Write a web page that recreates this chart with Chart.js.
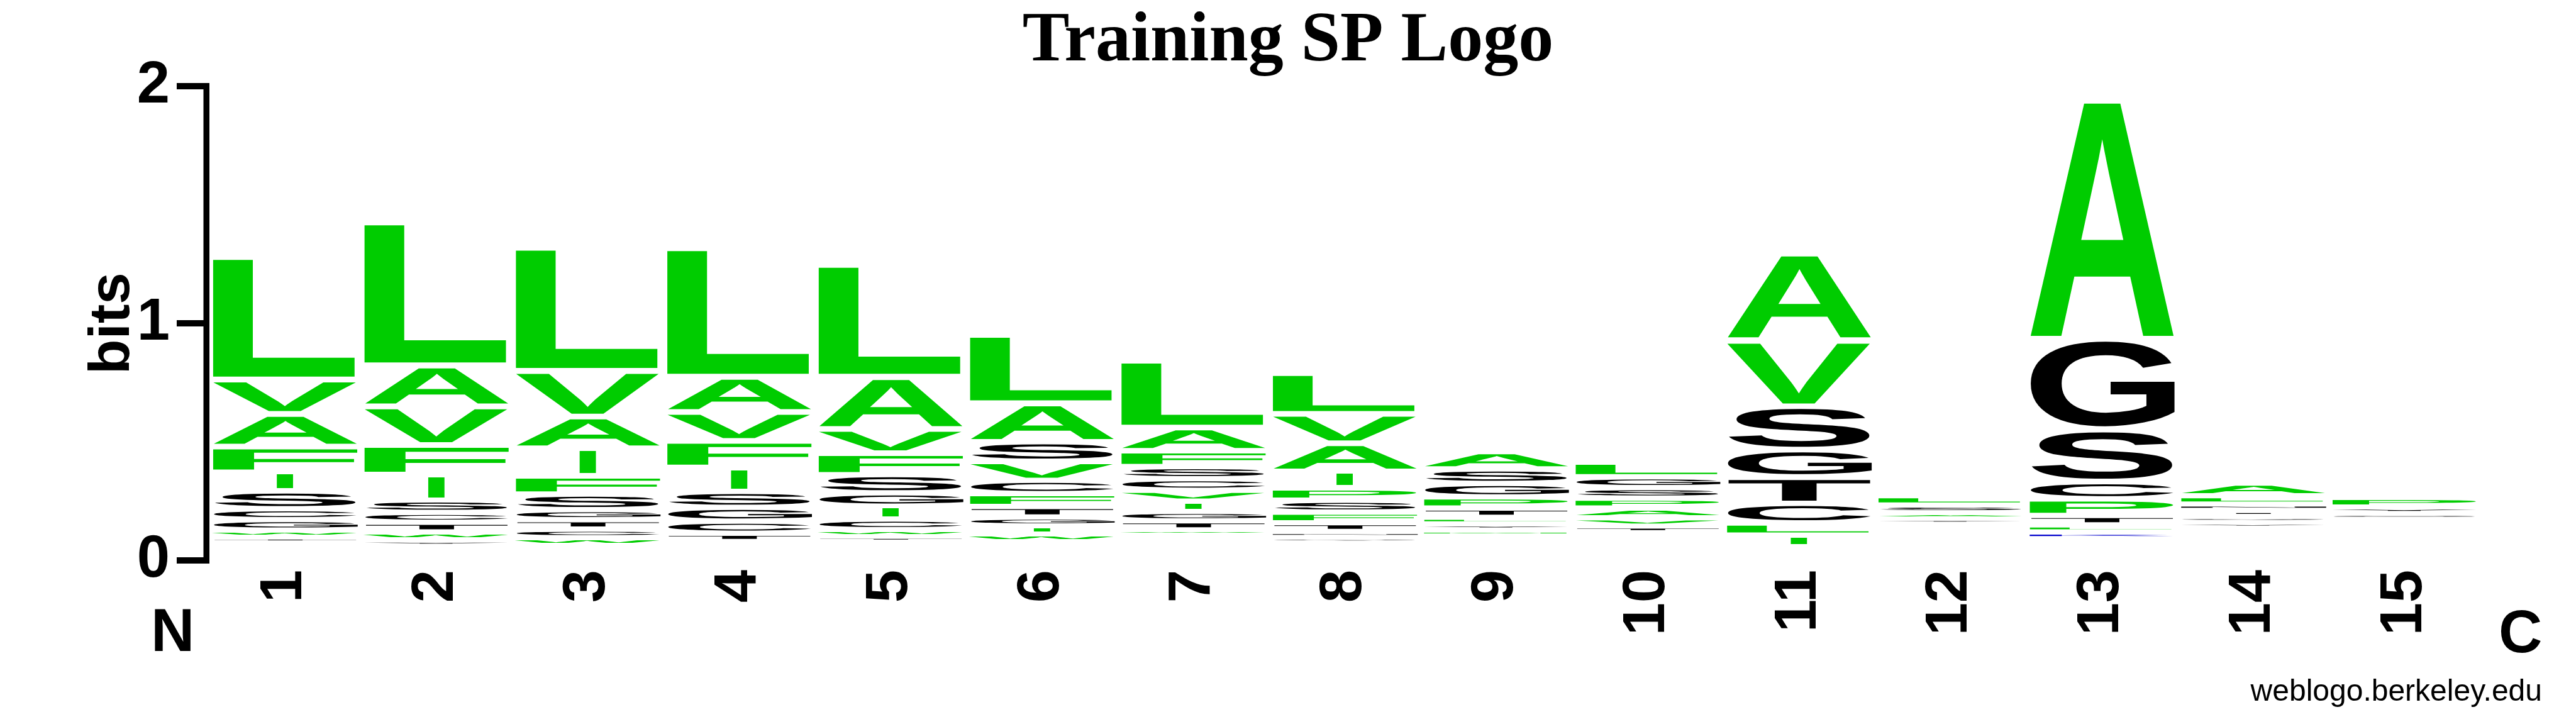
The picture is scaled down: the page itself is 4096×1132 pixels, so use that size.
<!DOCTYPE html>
<html>
<head>
<meta charset="utf-8">
<title>Training SP Logo</title>
<script src="https://cdn.jsdelivr.net/npm/chart.js@4.4.1/dist/chart.umd.min.js"></script>
<style>
  html, body { margin: 0; padding: 0; background: #fff; }
  canvas { display: block; }
</style>
</head>
<body>
<canvas id="logoCanvas" width="4096" height="1132"></canvas>
<script>
// sequence positions and y ticks
const positions = ["1", "2", "3", "4", "5", "6", "7", "8", "9", "10", "11", "12", "13", "14", "15"];
const yTicks = [0, 1, 2];

// bits per residue at each position (letter height incl. spacing)
const L = [0.525, 0.613, 0.527, 0.551, 0.479, 0.292, 0.286, 0.173, 0.028, 0.062, 0.051, 0.039, 0.030, 0.035, 0];
const V = [0.145, 0.163, 0.193, 0.122, 0.102, 0.080, 0.046, 0.124, 0, 0.035, 0.279, 0, 0, 0, 0];
const A = [0.138, 0.173, 0.134, 0.149, 0.221, 0.163, 0.098, 0.119, 0.074, 0.041, 0.370, 0.027, 1.023, 0.054, 0];
const F = [0.109, 0.125, 0.077, 0.112, 0.091, 0.054, 0.067, 0.045, 0, 0, 0, 0, 0, 0, 0];
const I = [0.079, 0.108, 0.117, 0.102, 0.055, 0.035, 0.043, 0.070, 0, 0, 0.049, 0, 0, 0, 0];
const S = [0.075, 0.052, 0.066, 0.067, 0.077, 0.083, 0.051, 0.050, 0.061, 0.044, 0.184, 0.032, 0.220, 0, 0];
const C = [0.046, 0.042, 0.036, 0.051, 0.044, 0.056, 0.049, 0, 0, 0, 0.083, 0, 0.072, 0, 0];
const G = [0.044, 0, 0.042, 0.058, 0.056, 0.037, 0.040, 0, 0.057, 0.046, 0.115, 0, 0.384, 0, 0];
const W = [0.030, 0.034, 0.032, 0, 0.030, 0.032, 0.024, 0, 0, 0, 0, 0, 0, 0, 0];
const T = [0.024, 0.041, 0.040, 0.035, 0.023, 0.045, 0.038, 0.037, 0.039, 0.028, 0.111, 0, 0.040, 0.026, 0];
const P = [0, 0, 0, 0, 0, 0, 0, 0.052, 0.047, 0.042, 0, 0, 0.070, 0, 0.041];
const M = [0, 0, 0, 0, 0, 0, 0, 0, 0.025, 0, 0, 0, 0, 0, 0];
const Y = [0, 0.026, 0, 0, 0, 0, 0, 0, 0.026, 0, 0, 0.022, 0, 0.024, 0.027];
const N = [0, 0, 0, 0, 0, 0, 0, 0.025, 0, 0, 0, 0, 0, 0.027, 0];
const Q = [0, 0, 0, 0, 0, 0, 0, 0.024, 0, 0, 0, 0, 0, 0.025, 0.025];
const K = [0, 0, 0, 0, 0, 0, 0, 0, 0, 0, 0, 0, 0.028, 0, 0];
// space taken by the residues too small to show
const hidden = [0.085, 0.071, 0.075, 0.091, 0.088, 0.090, 0.116, 0.084, 0.114, 0.128, 0.069, 0.164, 0.103, 0.147, 0.184];

const residues = { L, V, A, F, I, S, C, G, W, T, P, M, Y, N, Q, K };
const green = "#00cc00", black = "#000000", blue = "#0000cc";
const residueColors = {
  A: green, V: green, L: green, I: green, P: green, W: green, F: green, M: green,
  G: black, S: black, T: black, Y: black, C: black, N: black, Q: black,
  K: blue, R: blue, H: blue
};
const GAP = 0.022; // white space between stacked letters, in bits

// sort each column so the tallest letter is on top
const columns = positions.map((p, i) => Object.keys(residues)
  .filter(k => residues[k][i] > 0)
  .map(k => ({ letter: k, bits: residues[k][i] }))
  .sort((a, b) => a.bits - b.bits));
const depth = Math.max(...columns.map(c => c.length));

const datasets = [{ label: "hidden", data: hidden, backgroundColor: "transparent" }];
for (let r = 0; r < depth; r++) {
  datasets.push({
    label: "rank " + r,
    data: columns.map(c => c[r] ? c[r].bits : 0),
    letters: columns.map(c => c[r] ? c[r].letter : null),
    backgroundColor: "transparent"
  });
}

function drawGlyph(ctx, letter, left, bottom, w, h, color) {
  ctx.save();
  ctx.font = 'bold 400px "Liberation Sans", Arial, sans-serif';
  ctx.textAlign = "left";
  ctx.textBaseline = "alphabetic";
  const m = ctx.measureText(letter);
  const gw = m.actualBoundingBoxLeft + m.actualBoundingBoxRight;
  const gh = m.actualBoundingBoxAscent + m.actualBoundingBoxDescent;
  const tw = letter === "I" ? w * 0.12 : w;
  ctx.translate(left + (w - tw) / 2, bottom);
  ctx.scale(tw / gw, h / gh);
  ctx.fillStyle = color;
  ctx.fillText(letter, m.actualBoundingBoxLeft, -m.actualBoundingBoxDescent);
  ctx.restore();
}

const letterPlugin = {
  id: "letters",
  afterDatasetsDraw(chart) {
    const ctx = chart.ctx;
    const yScale = chart.scales.y;
    const gapPx = yScale.getPixelForValue(0) - yScale.getPixelForValue(GAP);
    chart.data.datasets.forEach((ds, d) => {
      if (!ds.letters) return;
      chart.getDatasetMeta(d).data.forEach((bar, i) => {
        const letter = ds.letters[i];
        if (!letter) return;
        const { x, y, base, width } = bar.getProps(["x", "y", "base", "width"], true);
        const bottom = Math.max(y, base);
        const h = Math.max(bottom - Math.min(y, base) - gapPx, 1);
        drawGlyph(ctx, letter, x - width / 2, bottom, width, h, residueColors[letter]);
      });
    });
  }
};

const decorPlugin = {
  id: "decor",
  afterDraw(chart) {
    const ctx = chart.ctx;
    const y = chart.scales.y;
    const left = chart.chartArea.left;
    const yTop = y.getPixelForValue(yTicks[yTicks.length - 1]);
    const yBot = y.getPixelForValue(yTicks[0]);
    ctx.save();
    ctx.fillStyle = "#000";
    // y axis line and ticks
    ctx.fillRect(left - 9.5, yTop - 5, 9.5, yBot - yTop + 10);
    yTicks.forEach(v => {
      const py = y.getPixelForValue(v);
      ctx.fillRect(left - 52, py - 5, 52, 10);
    });
    // axis title
    ctx.save();
    ctx.translate(205, (yTop + yBot) / 2);
    ctx.rotate(-Math.PI / 2);
    ctx.font = 'bold 91px "Liberation Sans", Arial, sans-serif';
    ctx.textAlign = "center";
    ctx.textBaseline = "alphabetic";
    ctx.fillText("bits", 0, 0);
    ctx.restore();
    // N / C termini
    ctx.font = 'bold 96px "Liberation Sans", Arial, sans-serif';
    ctx.textAlign = "left";
    ctx.fillText("N", 240, 1035);
    ctx.fillText("C", 3973, 1037);
    // credit
    ctx.font = '48px "Liberation Sans", Arial, sans-serif';
    ctx.textAlign = "right";
    ctx.fillText("weblogo.berkeley.edu", 4042, 1114);
    ctx.restore();
  }
};

new Chart(document.getElementById("logoCanvas").getContext("2d"), {
  type: "bar",
  data: { labels: positions, datasets: datasets },
  options: {
    responsive: false,
    animation: false,
    layout: { padding: { left: 152, right: 152, top: 0, bottom: 0 } },
    datasets: { bar: { barPercentage: 1, categoryPercentage: 0.967 } },
    plugins: {
      legend: { display: false },
      tooltip: { enabled: false },
      title: {
        display: true,
        text: "Training SP Logo",
        color: "#000",
        font: { family: '"Liberation Serif", "Times New Roman", serif', size: 112, weight: "bold", lineHeight: 1 },
        padding: { top: 11, bottom: 14 }
      }
    },
    scales: {
      x: {
        stacked: true,
        grid: { display: false },
        border: { display: false },
        ticks: {
          color: "#000",
          autoSkip: false,
          minRotation: 90,
          maxRotation: 90,
          padding: 7,
          font: { family: '"Liberation Sans", Arial, sans-serif', size: 94, weight: "bold" }
        },
        afterFit: s => { s.height = 241; }
      },
      y: {
        stacked: true,
        min: 0,
        max: 2,
        grid: { display: false },
        border: { display: false },
        ticks: {
          stepSize: 1,
          color: "#000",
          padding: 55,
          font: { family: '"Liberation Sans", Arial, sans-serif', size: 94, weight: "bold" }
        },
        afterFit: s => { s.width = 181; }
      }
    }
  },
  plugins: [letterPlugin, decorPlugin]
});
</script>
</body>
</html>
